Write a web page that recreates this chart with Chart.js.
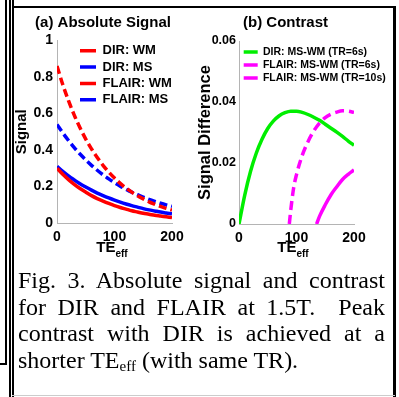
<!DOCTYPE html>
<html>
<head>
<meta charset="utf-8">
<script src="https://cdn.jsdelivr.net/npm/chart.js@4"></script>
<style>
  html, body { margin: 0; padding: 0; background: #fff; }
  body { width: 399px; height: 397px; position: relative; overflow: hidden; }
  .box { position: absolute; }
  .ln { position: absolute; background: #000; }
  .te { position: absolute; font: bold 15px 'Liberation Sans', Arial, sans-serif; color: #000; transform: translateX(-50%); white-space: nowrap; }
  .te sub { font-size: 10px; vertical-align: -5px; }
  #caption { position: absolute; left: 18px; top: 267px; width: 367px; font: 24px 'Liberation Serif', 'Times New Roman', serif; color: #000; }
  #caption div { height: 26.7px; line-height: 26.7px; white-space: nowrap; }
  #caption .j { text-align: justify; text-align-last: justify; }
  #caption sub { font-size: 15px; vertical-align: -3px; line-height: 0; }
</style>
</head>
<body>
<!-- frame -->
<div class="ln" style="left:5px;top:0;width:2px;height:365px"></div>
<div class="ln" style="left:0;top:363px;width:7px;height:2px"></div>
<div class="ln" style="left:9px;top:0;width:2px;height:397px"></div>
<div class="ln" style="left:12px;top:0;width:2px;height:397px"></div>
<div class="ln" style="left:12px;top:6px;width:383px;height:2px"></div>
<div class="ln" style="left:393px;top:6px;width:2.5px;height:391px"></div>
<div class="ln" style="left:12px;top:395px;width:383px;height:1px;background:#ccc"></div>

<div class="box" style="left:14px;top:8px;width:178px;height:240px"><canvas id="chartA"></canvas></div>
<div class="box" style="left:197px;top:8px;width:195px;height:240px"><canvas id="chartB"></canvas></div>

<div class="te" style="left:112px;top:238px">TE<sub>eff</sub></div>
<div class="te" style="left:293px;top:238px">TE<sub>eff</sub></div>

<div id="caption">
  <div class="j">Fig. 3. Absolute signal and contrast</div>
  <div class="j">for DIR and FLAIR at 1.5T.&nbsp; Peak</div>
  <div class="j">contrast with DIR is achieved at a</div>
  <div>shorter TE<sub>eff</sub> (with same TR).</div>
</div>

<script>
// ---- DATA ----
const teGrid = [0, 10, 20, 30, 40, 50, 60, 70, 80, 90, 100, 110, 120, 130, 140, 150, 160, 170, 180, 190, 200];
const dirWM   = [0.300, 0.267, 0.238, 0.212, 0.189, 0.169, 0.150, 0.134, 0.120, 0.107, 0.095, 0.085, 0.076, 0.067, 0.060, 0.053, 0.048, 0.042, 0.038, 0.034, 0.030];
const dirMS   = [0.310, 0.283, 0.258, 0.236, 0.215, 0.197, 0.180, 0.164, 0.150, 0.137, 0.125, 0.114, 0.104, 0.095, 0.087, 0.079, 0.072, 0.066, 0.060, 0.055, 0.050];
const flairWM = [0.860, 0.759, 0.670, 0.591, 0.522, 0.460, 0.406, 0.359, 0.316, 0.279, 0.246, 0.217, 0.192, 0.169, 0.149, 0.132, 0.116, 0.103, 0.091, 0.080, 0.071];
const flairMS = [0.540, 0.494, 0.452, 0.413, 0.378, 0.346, 0.316, 0.289, 0.264, 0.242, 0.221, 0.202, 0.185, 0.169, 0.155, 0.142, 0.129, 0.118, 0.108, 0.099, 0.091];

const dirContrast = [0, 0.0095, 0.0172, 0.0232, 0.0278, 0.0313, 0.0338, 0.0355, 0.0365, 0.0370, 0.0370, 0.0366, 0.0359, 0.0350, 0.0340, 0.0327, 0.0314, 0.0301, 0.0287, 0.0272, 0.0258];
const teFlair6 = [135, 140, 150, 160, 170, 180, 190, 200];
const flair6   = [0, 0.0025, 0.0063, 0.0096, 0.0122, 0.0146, 0.0163, 0.0177];
const teFlair10 = [87.5, 90, 95, 100, 110, 120, 130, 140, 150, 160, 170, 180, 190, 200];
const flair10   = [0, 0.0045, 0.0118, 0.0162, 0.0225, 0.0270, 0.0305, 0.0331, 0.0349, 0.0360, 0.0367, 0.0371, 0.0370, 0.0366];

const xTicks = [0, 100, 200];

// ---- HELPERS ----
const FONT = "'Liberation Sans', Arial, sans-serif";
const pts = (xs, ys) => xs.map((x, i) => ({ x, y: ys[i] }));

function series(label, xs, ys, color, dash) {
  return {
    label, data: pts(xs, ys),
    borderColor: color, backgroundColor: color,
    borderWidth: 3.5, borderDash: dash || [],
    pointRadius: 0, fill: false,
    cubicInterpolationMode: 'monotone'
  };
}

// nudges the in-plot legend to where the figure had it
const legendShift = {
  id: 'legendShift',
  afterLayout(chart, args, opts) {
    const lg = chart.legend;
    lg.left = chart.chartArea.left + opts.dx;
    lg.top = chart.chartArea.top + opts.dy;
    lg.right = lg.left + 200;
    lg.bottom = lg.top + 100;
  }
};

function makeChart(id, cfg) {
  return new Chart(document.getElementById(id), {
    type: 'line',
    data: { datasets: cfg.datasets },
    plugins: [legendShift],
    options: {
      responsive: true,
      maintainAspectRatio: false,
      animation: false,
      layout: { padding: { left: 0, right: cfg.padRight, top: 0, bottom: 0 } },
      plugins: {
        title: {
          display: true, text: cfg.title, color: '#000',
          font: { family: FONT, size: 15, weight: 'bold' },
          padding: { top: 6, bottom: cfg.titleGap }
        },
        legend: {
          position: 'chartArea', align: 'start',
          labels: {
            usePointStyle: true, pointStyle: 'line', pointStyleWidth: cfg.legBox,
            boxHeight: 4, padding: cfg.legPad, color: '#000',
            font: { family: FONT, size: cfg.legFont, weight: 'bold' }
          }
        },
        legendShift: { dx: cfg.legDx, dy: cfg.legDy },
        tooltip: { enabled: false }
      },
      scales: {
        x: {
          type: 'linear', min: 0, max: 200,
          afterBuildTicks: s => { s.ticks = xTicks.map(v => ({ value: v })); },
          afterFit: s => { s.height = cfg.xHeight; },
          grid: { display: false, drawTicks: false },
          border: { display: true, color: '#b4b4b4', width: 1 },
          ticks: { color: '#000', padding: 6, maxRotation: 0, font: { family: FONT, size: 14, weight: 'bold' } }
        },
        y: {
          min: 0, max: cfg.yMax,
          afterFit: s => { s.width = cfg.yWidth; },
          grid: { display: false, drawTicks: false },
          border: { display: true, color: '#b4b4b4', width: 1 },
          ticks: {
            stepSize: cfg.yStep, color: '#000', padding: cfg.yPad,
            font: { family: FONT, size: cfg.yFont, weight: 'bold' },
            callback: cfg.yFmt
          },
          title: {
            display: true, text: cfg.yTitle, color: '#000', padding: 0,
            font: { family: FONT, size: cfg.yTitleSize, weight: 'bold', lineHeight: 1 }
          }
        },
        // empty right-hand gutter so the title centres over the whole panel
        gutter: {
          position: 'right', min: 0, max: 1,
          afterFit: s => { s.width = cfg.gutter; },
          grid: { display: false, drawTicks: false },
          border: { display: false },
          ticks: { display: false }
        }
      }
    }
  });
}

makeChart('chartA', {
  title: '(a) Absolute Signal', titleGap: 8.5, padRight: 0, gutter: 20,
  yTitle: 'Signal', yTitleSize: 15, yMax: 1, yStep: 0.2, yWidth: 43, xHeight: 25, yFont: 14, yPad: 4,
  yFmt: v => String(+v.toFixed(1)),
  legBox: 16, legPad: 3.3, legFont: 13, legDx: 19.7, legDy: 0.5,
  datasets: [
    series('DIR: WM', teGrid, dirWM, '#ff0000'),
    series('DIR: MS', teGrid, dirMS, '#0000ff'),
    series('FLAIR: WM', teGrid, flairWM, '#ff0000', [8, 4]),
    series('FLAIR: MS', teGrid, flairMS, '#0000ff', [8, 4])
  ]
});

makeChart('chartB', {
  title: '(b) Contrast', titleGap: 9, padRight: 18, gutter: 20,
  yTitle: 'Signal Difference', yTitleSize: 16.5, yMax: 0.06, yStep: 0.02, yWidth: 42, xHeight: 24, yFont: 12.5, yPad: 3,
  yFmt: v => (Math.abs(v) < 1e-9 ? '0' : v.toFixed(2)),
  legBox: 14, legPad: 2.5, legFont: 10.5, legDx: 2.2, legDy: 3.3,
  datasets: [
    series('DIR: MS-WM (TR=6s)', teGrid, dirContrast, '#00ee00'),
    series('FLAIR: MS-WM (TR=6s)', teFlair6, flair6, '#ff00ff'),
    series('FLAIR: MS-WM (TR=10s)', teFlair10, flair10, '#ff00ff', [9, 5])
  ]
});
</script>
</body>
</html>
